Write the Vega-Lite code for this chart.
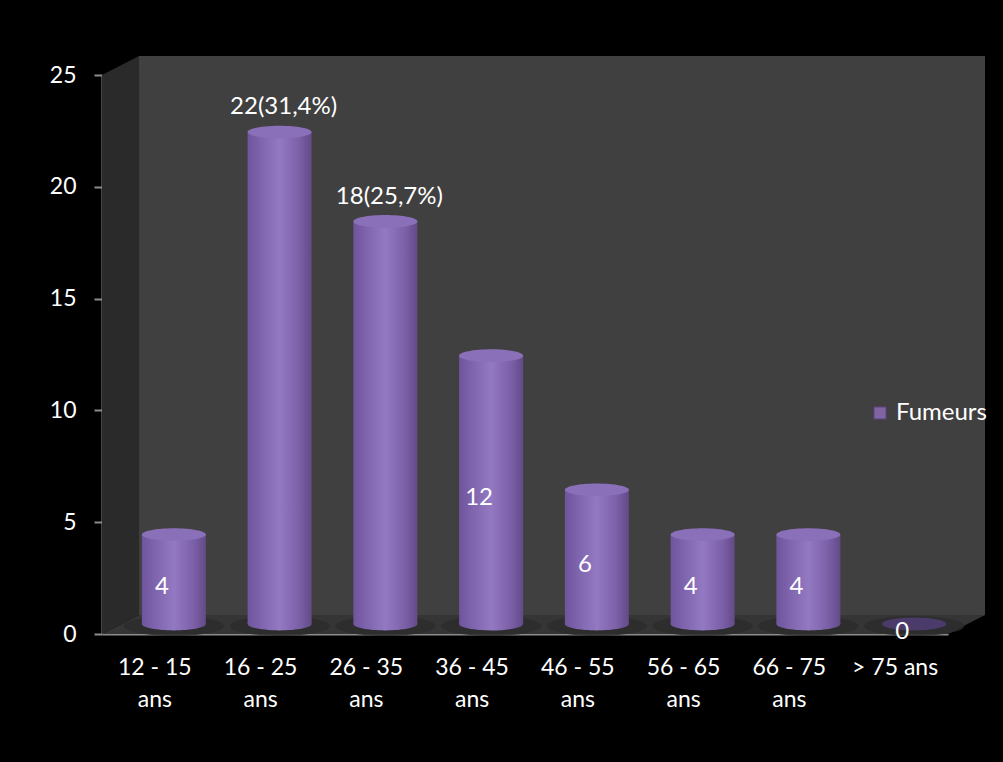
{
  "$schema": "https://vega.github.io/schema/vega-lite/v6.json",
  "width": 846,
  "height": 559,
  "autosize": {"type": "none"},
  "padding": {"left": 102, "top": 75, "right": 55, "bottom": 128},
  "background": "#000000",
  "config": {
    "view": {"stroke": null},
    "font": "Lato",
    "text": {"font": "Lato"}
  },
  "datasets": {
    "ages": [
      {"age": "12 - 15 ans", "v": 4, "label": "4"},
      {"age": "16 - 25 ans", "v": 22, "label": "22(31,4%)"},
      {"age": "26 - 35 ans", "v": 18, "label": "18(25,7%)"},
      {"age": "36 - 45 ans", "v": 12, "label": "12"},
      {"age": "46 - 55 ans", "v": 6, "label": "6"},
      {"age": "56 - 65 ans", "v": 4, "label": "4"},
      {"age": "66 - 75 ans", "v": 4, "label": "4"},
      {"age": "> 75 ans", "v": 0, "label": "0"}
    ],
    "side": [
      {"x": 0, "lo": 0, "hi": 25},
      {"x": 0.35, "lo": 0.85, "hi": 25.85}
    ],
    "floor": [
      {"x": 0, "lo": 0, "hi": 0},
      {"x": 0.35, "lo": 0, "hi": 0.85},
      {"x": 8, "lo": 0, "hi": 0.85},
      {"x": 8.35, "lo": 0.85, "hi": 0.85}
    ]
  },
  "layer": [
    {
      "layer": [
        {
          "data": {"values": [{}]},
          "mark": {"type": "rect", "fill": "#404040"},
          "encoding": {
            "x": {"datum": 0.35, "type": "quantitative", "scale": {"domain": [0, 8], "nice": false, "zero": false}, "axis": null},
            "x2": {"datum": 8.35},
            "y": {"datum": 0.85, "type": "quantitative", "scale": {"domain": [0, 25], "nice": false}, "axis": null},
            "y2": {"datum": 25.85}
          }
        },
        {
          "data": {"name": "side"},
          "mark": {"type": "area", "fill": "#2a2a2a", "orient": "vertical"},
          "encoding": {
            "x": {"field": "x", "type": "quantitative"},
            "y": {"field": "lo", "type": "quantitative"},
            "y2": {"field": "hi"}
          }
        },
        {
          "data": {"name": "floor"},
          "mark": {"type": "area", "fill": "#353535", "orient": "vertical"},
          "encoding": {
            "x": {"field": "x", "type": "quantitative"},
            "y": {"field": "lo", "type": "quantitative"},
            "y2": {"field": "hi"}
          }
        }
      ]
    },
    {
      "data": {"name": "ages"},
      "encoding": {
        "x": {
          "field": "age", "type": "nominal", "sort": null,
          "scale": {"paddingInner": 0.395, "paddingOuter": 0.1975},
          "axis": {
            "orient": "bottom",
            "title": null, "labelAngle": 0, "ticks": false,
            "domainColor": "#8c8c8c", "domainWidth": 2,
            "labelColor": "#ffffff", "labelFontSize": 23, "labelFont": "Lato",
            "labelPadding": 22, "labelBaseline": "top", "labelLineHeight": 32,
            "labelExpr": "indexof(datum.label, '>') == 0 ? datum.label : [replace(datum.label, ' ans', ''), 'ans']"
          }
        },
        "y": {
          "field": "v", "type": "quantitative",
          "scale": {"domain": [0, 25], "nice": false},
          "axis": {
            "orient": "left",
            "title": null, "values": [0, 5, 10, 15, 20, 25], "grid": false,
            "domainColor": "#8c8c8c", "domainWidth": 2,
            "tickColor": "#8c8c8c", "tickWidth": 2, "tickSize": 8,
            "labelColor": "#ffffff", "labelFontSize": 23, "labelFont": "Lato", "labelPadding": 18
          }
        }
      },
      "layer": [
        {
          "mark": {
            "type": "point", "filled": true, "fill": "#2b2b2b", "opacity": 0.85,
            "shape": "M -1 0 C -1 -0.11 -0.552 -0.2 0 -0.2 C 0.552 -0.2 1 -0.11 1 0 C 1 0.11 0.552 0.2 0 0.2 C -0.552 0.2 -1 0.11 -1 0 Z",
            "size": 10000, "xOffset": 19, "yOffset": -8
          },
          "encoding": {"y": {"datum": 0, "type": "quantitative"}}
        },
        {
          "transform": [{"filter": "datum.v > 0"}],
          "mark": {
            "type": "point", "filled": true, "opacity": 1,
            "fill": {"gradient": "linear", "x1": 0, "x2": 1, "y1": 0, "y2": 0,
              "stops": [{"offset": 0, "color": "#6f559c"}, {"offset": 0.2, "color": "#7e63ad"}, {"offset": 0.5, "color": "#9379c2"}, {"offset": 0.8, "color": "#7c61a9"}, {"offset": 1, "color": "#634a88"}]},
            "shape": "M -1 0 C -1 -0.11 -0.552 -0.2 0 -0.2 C 0.552 -0.2 1 -0.11 1 0 C 1 0.11 0.552 0.2 0 0.2 C -0.552 0.2 -1 0.11 -1 0 Z",
            "size": 4096, "xOffset": 19, "yOffset": -10
          },
          "encoding": {"y": {"datum": 0, "type": "quantitative"}}
        },
        {
          "transform": [{"filter": "datum.v > 0"}],
          "mark": {
            "type": "bar",
            "fill": {"gradient": "linear", "x1": 0, "x2": 1, "y1": 0, "y2": 0,
              "stops": [{"offset": 0, "color": "#6f559c"}, {"offset": 0.2, "color": "#7e63ad"}, {"offset": 0.5, "color": "#9379c2"}, {"offset": 0.8, "color": "#7c61a9"}, {"offset": 1, "color": "#634a88"}]},
            "xOffset": 19, "x2Offset": 19, "yOffset": -10, "y2Offset": -10
          }
        },
        {
          "mark": {
            "type": "point", "filled": true, "opacity": 1,
            "shape": "M -1 0 C -1 -0.11 -0.552 -0.2 0 -0.2 C 0.552 -0.2 1 -0.11 1 0 C 1 0.11 0.552 0.2 0 0.2 C -0.552 0.2 -1 0.11 -1 0 Z",
            "size": 4096, "xOffset": 19, "yOffset": -10
          },
          "encoding": {
            "fill": {"condition": {"test": "datum.v == 0", "value": "#4b3b6a"}, "value": "#8a6fb9"}
          }
        },
        {
          "transform": [{"filter": "datum.v > 15"}],
          "mark": {"type": "text", "color": "#ffffff", "fontSize": 24, "font": "Lato", "baseline": "middle", "dx": 23, "dy": -35},
          "encoding": {"text": {"field": "label"}}
        },
        {
          "transform": [{"filter": "false"}],
          "mark": {"type": "point", "filled": true},
          "encoding": {
            "color": {
              "datum": "Fumeurs", "type": "nominal",
              "scale": {"domain": ["Fumeurs"], "range": ["#8064a2"]},
              "legend": {
                "orient": "none", "legendX": 766, "legendY": 326, "title": null,
                "symbolType": "square", "symbolSize": 144, "symbolOpacity": 1,
                "symbolStrokeColor": "#5a4580", "symbolStrokeWidth": 1,
                "labelColor": "#ffffff", "labelFontSize": 24, "labelFont": "Lato", "labelOffset": 4
              }
            }
          }
        }
      ]
    },
    {
      "data": {"name": "ages"},
      "transform": [{"filter": "datum.v <= 15"}],
      "mark": {"type": "text", "color": "#ffffff", "fontSize": 24, "font": "Lato", "baseline": "middle", "dx": 7, "dy": -2},
      "encoding": {
        "x": {"field": "age", "type": "nominal", "sort": null,
          "scale": {"domain": ["12 - 15 ans", "16 - 25 ans", "26 - 35 ans", "36 - 45 ans", "46 - 55 ans", "56 - 65 ans", "66 - 75 ans", "> 75 ans"], "paddingInner": 0.395, "paddingOuter": 0.1975},
          "axis": null},
        "y": {"field": "v", "type": "quantitative", "scale": {"domain": [0, 50], "nice": false}, "axis": null},
        "text": {"field": "label"}
      }
    }
  ],
  "resolve": {"scale": {"x": "independent", "y": "independent", "color": "independent"}, "axis": {"x": "independent", "y": "independent"}}
}
